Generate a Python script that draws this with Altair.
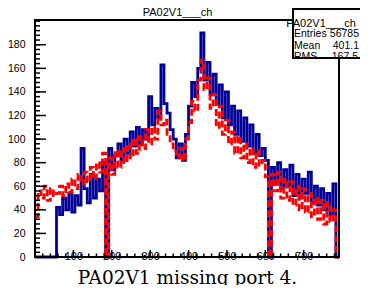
import altair as alt
import pandas as pd

# ---- data (bin width 8, bins start at 0) ----
bin_width = 8
blue_counts = [0, 0, 0, 0, 0, 0, 0, 42, 36, 50,
               40, 54, 38, 52, 44, 92, 58, 46, 70, 50,
               66, 56, 80, 0, 92, 74, 86, 96, 82, 100,
               88, 106, 94, 110, 96, 108, 100, 136, 112, 126,
               118, 163, 130, 122, 108, 100, 84, 96, 82, 104,
               128, 148, 136, 160, 190, 150, 165, 138, 155, 130,
               146, 118, 140, 112, 128, 104, 124, 98, 118, 94,
               112, 88, 104, 86, 92, 82, 0, 76, 62, 80,
               58, 74, 60, 78, 52, 70, 50, 66, 54, 72,
               46, 60, 44, 58, 40, 54, 36, 62, 0]
red_counts = [34, 56, 50, 60, 48, 58, 52, 54, 60, 52,
              62, 55, 66, 58, 70, 62, 72, 64, 76, 66,
              80, 72, 88, 0, 84, 70, 90, 76, 92, 80,
              96, 84, 100, 88, 102, 92, 108, 96, 110, 100,
              124, 112, 116, 104, 96, 90, 84, 92, 82, 100,
              114, 132, 124, 150, 167, 142, 152, 126, 138, 110,
              128, 104, 116, 96, 106, 88, 102, 84, 96, 80,
              92, 76, 90, 78, 82, 68, 0, 70, 56, 72,
              50, 66, 48, 64, 44, 60, 40, 58, 38, 54,
              34, 50, 32, 48, 28, 46, 30, 40, 0]

y_major = [0, 20, 40, 60, 80, 100, 120, 140, 160, 180]
y_minor = list(range(0, 201, 4))
x_major = [100, 200, 300, 400, 500, 600, 700]
x_minor = list(range(0, 792, 20))

hist_title = "PA02V1___ch"
caption = "PA02V1 missing port 4."
stats_labels = ["Entries", "Mean", "RMS"]
stats_values = ["56785", "401.1", "167.5"]

x_max = len(blue_counts) * bin_width


def step_frame(counts):
    xs = [i * bin_width for i in range(len(counts))] + [len(counts) * bin_width]
    vs = list(counts) + [counts[-1]]
    return pd.DataFrame({"x": xs, "value": vs})


blue_df = step_frame(blue_counts)
red_df = step_frame(red_counts)

x_enc = alt.X("x:Q",
              scale=alt.Scale(domain=[0, x_max], nice=False, zero=False),
              axis=alt.Axis(values=x_major, title=caption, grid=False, domain=False,
                            ticks=False, labelPadding=-7, labelFont="Liberation Sans",
                            labelFontSize=11, labelColor="black", labelFlush=False,
                            labelOverlap=False, titleFont="DejaVu Serif",
                            titleFontSize=18.5, titleFontWeight="normal",
                            titleColor="black", titleBaseline="alphabetic", titleY=26.5))
y_enc = alt.Y("value:Q",
              scale=alt.Scale(domain=[0, 201], nice=False),
              axis=alt.Axis(values=y_major, title=None, grid=False, domain=False,
                            ticks=False, labelPadding=10, labelFont="Liberation Sans",
                            labelFontSize=10.5, labelColor="black", labelFlush=False,
                            labelOverlap=False))

blue = alt.Chart(blue_df).mark_line(interpolate="step-after", color="#000099",
                                    strokeWidth=2.8).encode(x=x_enc, y=y_enc)
red = alt.Chart(red_df).mark_line(interpolate="step-after", color="#ff0000",
                                  strokeWidth=2.8, strokeDash=[7, 3]).encode(x=x_enc, y=y_enc)

ymaj = alt.Chart(pd.DataFrame({"value": y_major})).mark_rule(color="black", strokeWidth=1.5).encode(
    y=y_enc, x=alt.value(0), x2=alt.value(11))
ymin = alt.Chart(pd.DataFrame({"value": y_minor})).mark_rule(color="black", strokeWidth=1.5).encode(
    y=y_enc, x=alt.value(0), x2=alt.value(5))
xmaj = alt.Chart(pd.DataFrame({"x": [0] + x_major})).mark_rule(color="black", strokeWidth=1.5).encode(
    x=x_enc, y=alt.value(237), y2=alt.value(230))
xmin = alt.Chart(pd.DataFrame({"x": x_minor})).mark_rule(color="black", strokeWidth=1.5).encode(
    x=x_enc, y=alt.value(237), y2=alt.value(233.5))

one = pd.DataFrame({"a": [0]})
frame = alt.Chart(one).mark_rect(fillOpacity=0, stroke="black", strokeWidth=2).encode(
    x=alt.value(0), x2=alt.value("width"), y=alt.value(0), y2=alt.value("height"))

main_title = alt.Chart(one).mark_text(text=hist_title, align="center", font="Liberation Sans",
                                      fontSize=11, color="black", baseline="alphabetic").encode(
    x=alt.value(142.5), y=alt.value(-4))

box_fill = alt.Chart(one).mark_rect(fill="white", stroke="black", strokeWidth=2).encode(
    x=alt.value(258), x2=alt.value(350), y=alt.value(-11), y2=alt.value(38))

txt_kw = dict(font="Liberation Sans", fontSize=10.5, color="black", baseline="alphabetic")
box_title = alt.Chart(one).mark_text(text=hist_title, align="center", font="Liberation Sans",
                                     fontSize=11, color="black", baseline="alphabetic").encode(
    x=alt.value(286), y=alt.value(7))
label_y = [17, 29, 40]
value_x = [324, 324, 323]
stat_layers = []
for lab, val, yy, vx in zip(stats_labels, stats_values, label_y, value_x):
    stat_layers.append(alt.Chart(one).mark_text(text=lab, align="left", **txt_kw).encode(
        x=alt.value(259), y=alt.value(yy)))
    stat_layers.append(alt.Chart(one).mark_text(text=val, align="right", **txt_kw).encode(
        x=alt.value(vx), y=alt.value(yy)))

strip = alt.Chart(one).mark_rect(fill="white").encode(
    x=alt.value(257), x2=alt.value(350), y=alt.value(38), y2=alt.value(45))
box_border = alt.Chart(one).mark_rect(fillOpacity=0, stroke="black", strokeWidth=2).encode(
    x=alt.value(258), x2=alt.value(350), y=alt.value(-11), y2=alt.value(38))
right_edge = alt.Chart(one).mark_rule(color="black", strokeWidth=2).encode(
    x=alt.value("width"), y=alt.value(38), y2=alt.value("height"))

chart = alt.layer(
    blue, red, ymaj, ymin, xmaj, xmin, frame, main_title, box_fill, box_title, *stat_layers,
    strip, box_border, right_edge
).properties(
    width=304, height=237,
    autosize=alt.AutoSizeParams(type="none"),
    padding={"left": 27, "top": 12, "right": 21, "bottom": 28},
).configure_view(stroke=None).configure(background="white")

chart.save("out.html", embed_options={"renderer": "svg", "actions": False})
